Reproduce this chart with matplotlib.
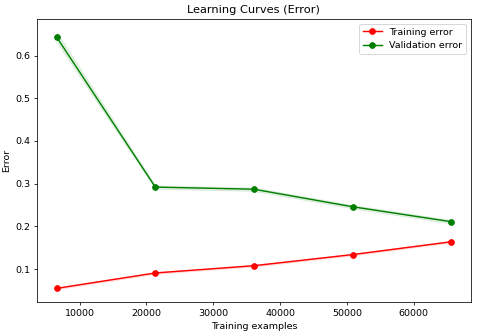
import matplotlib
matplotlib.use('Agg')
import matplotlib.pyplot as plt
import numpy as np

train_sizes = [6560, 21320, 36080, 50840, 65600]
train_err = [0.055, 0.091, 0.108, 0.134, 0.164]
train_std = [0.002, 0.002, 0.002, 0.002, 0.002]
val_err = [0.643, 0.292, 0.287, 0.246, 0.211]
val_std = [0.012, 0.004, 0.004, 0.004, 0.004]

train_err = np.array(train_err)
val_err = np.array(val_err)
train_std = np.array(train_std)
val_std = np.array(val_std)

dpi = 480 / 7.0
fig = plt.figure(figsize=(7, 4.9), dpi=dpi)
ax = fig.add_subplot(111)
fig.subplots_adjust(left=0.077, right=0.981, top=0.943, bottom=0.101)

ax.fill_between(train_sizes, train_err - train_std, train_err + train_std, alpha=0.1, color='r')
ax.fill_between(train_sizes, val_err - val_std, val_err + val_std, alpha=0.1, color='g')
ax.plot(train_sizes, train_err, 'o-', color='r', label='Training error')
ax.plot(train_sizes, val_err, 'o-', color='g', label='Validation error')

ax.set_title('Learning Curves (Error)')
ax.set_xlabel('Training examples')
ax.set_ylabel('Error')
ax.legend(loc='best')

fig.savefig('out.png', dpi=dpi)
